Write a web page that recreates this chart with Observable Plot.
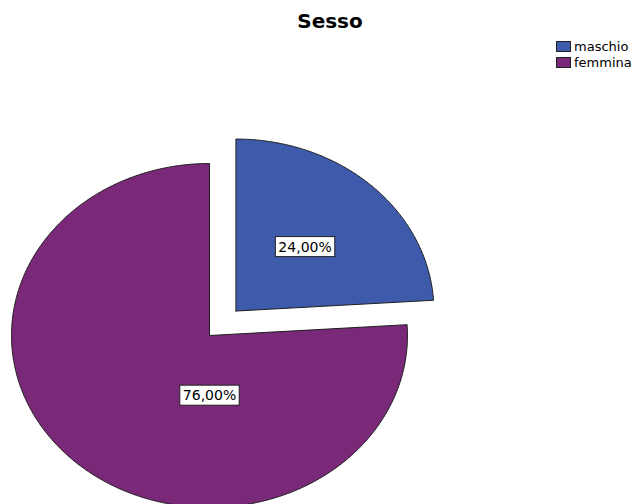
<!DOCTYPE html>
<html>
<head>
<meta charset="utf-8">
<script src="https://cdn.jsdelivr.net/npm/d3@7"></script>
<script src="https://cdn.jsdelivr.net/npm/@observablehq/plot@0.6"></script>
<style>
  body { margin: 0; background: #fff; }
  #wrap { position: relative; width: 635px; height: 504px; overflow: hidden; font-family: "DejaVu Sans", sans-serif; }
  #title { position: absolute; left: 300px; width: 60px; top: 9px; text-align: center; font-weight: bold; font-size: 20px; color: #000; white-space: nowrap; display: flex; justify-content: center; }
  #legend { position: absolute; left: 556px; top: 38px; font-size: 13px; color: #000; }
  .row { display: flex; align-items: center; height: 16.5px; }
  .sw { width: 13px; height: 9px; border: 1px solid #222; margin-right: 3px; }
  #chart { position: absolute; left: 0; top: 0; }
</style>
</head>
<body>
<div id="wrap">
  <div id="chart"></div>
  <div id="title"></div>
  <div id="legend"></div>
</div>
<script>
// Survey answers by sex (percent of respondents)
const title = "Sesso";
const categories = ["maschio", "femmina"];
const percents = [24.0, 76.0];
const colors = ["#3d5aab", "#7a2878"];

// Layout: exploded slice offset (fraction of radius) and label anchors
const explode = [0.195, 0];
const labelAnchor = [{angle: null, r: 0.51}, {angle: 180, r: 0.35}];

const total = d3.sum(percents);
const fmt = v => v.toFixed(2).replace(".", ",") + "%";

// Angles measured clockwise from 12 o'clock
let acc = 0;
const slices = categories.map((key, i) => {
  const a0 = acc / total * 2 * Math.PI;
  acc += percents[i];
  const a1 = acc / total * 2 * Math.PI;
  const mid = (a0 + a1) / 2;
  const ox = explode[i] * Math.sin(mid);
  const oy = explode[i] * Math.cos(mid);
  const pts = [{x: ox, y: oy}];
  const n = Math.max(2, Math.ceil((a1 - a0) / (Math.PI / 360)));
  for (let k = 0; k <= n; ++k) {
    const a = a0 + (a1 - a0) * k / n;
    pts.push({x: ox + Math.sin(a), y: oy + Math.cos(a)});
  }
  pts.push({x: ox, y: oy});
  const la = labelAnchor[i].angle == null ? mid : labelAnchor[i].angle * Math.PI / 180;
  const lr = labelAnchor[i].r;
  return {
    key, color: colors[i], pts,
    label: {x: ox + lr * Math.sin(la), y: oy + lr * Math.cos(la), text: fmt(percents[i])}
  };
});

const plot = Plot.plot({
  width: 635,
  height: 504,
  margin: 0,
  style: {overflow: "visible", background: "transparent"},
  x: {domain: [-1, 1], range: [11, 407], axis: null},
  y: {domain: [-1, 1], range: [507, 163], axis: null},
  marks: [
    ...slices.map(s => Plot.line(s.pts, {
      x: "x", y: "y", fill: s.color, stroke: "#1e1e1e", strokeWidth: 1, curve: "linear"
    })),
    Plot.text(slices.map(s => s.label), {
      x: "x", y: "y", text: "text", fill: "#000",
      fontSize: 14, fontFamily: "DejaVu Sans, sans-serif"
    })
  ]
});

document.getElementById("chart").appendChild(plot);

// White framed boxes behind the percentage labels
d3.select(plot).selectAll('g[aria-label="text"] text').each(function() {
  const b = this.getBBox();
  const padX = 3, padY = 3;
  d3.select(this.parentNode).insert("rect", () => this)
    .attr("transform", this.getAttribute("transform"))
    .attr("x", b.x - padX).attr("y", b.y - padY + 1)
    .attr("width", b.width + 2 * padX).attr("height", b.height + 2 * padY - 2)
    .attr("fill", "#fff").attr("stroke", "#222").attr("stroke-width", 1);
});

document.getElementById("title").textContent = title;
const legend = d3.select("#legend");
categories.forEach((c, i) => {
  const row = legend.append("div").attr("class", "row");
  row.append("div").attr("class", "sw").style("background", colors[i]);
  row.append("span").text(c);
});
</script>
</body>
</html>
